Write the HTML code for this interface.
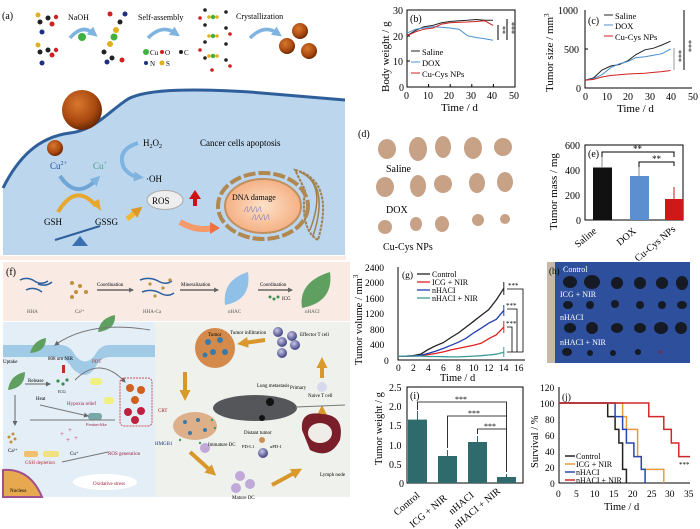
<!DOCTYPE html>
<html><head><meta charset="utf-8"><style>
html,body{margin:0;padding:0;background:#fff;}
svg{display:block;font-family:"Liberation Serif",serif;}
</style></head><body>
<svg width="700" height="529" viewBox="0 0 700 529" xmlns="http://www.w3.org/2000/svg">
<defs>
<radialGradient id="np" cx="40%" cy="35%" r="65%"><stop offset="0" stop-color="#d9782e"/><stop offset="0.7" stop-color="#a8470f"/><stop offset="1" stop-color="#6b2a05"/></radialGradient>
<radialGradient id="nuc" cx="50%" cy="50%" r="60%"><stop offset="0" stop-color="#fde1c8"/><stop offset="1" stop-color="#f3a777"/></radialGradient>
<radialGradient id="ball" cx="40%" cy="35%" r="60%"><stop offset="0" stop-color="#c8c8e6"/><stop offset="1" stop-color="#4a4a8a"/></radialGradient>
<marker id="ab" markerUnits="userSpaceOnUse" markerWidth="10" markerHeight="10" refX="4" refY="5" orient="auto"><path d="M0,0L10,5L0,10z" fill="#7fb3e0"/></marker>
<marker id="ag" markerUnits="userSpaceOnUse" markerWidth="5" markerHeight="5" refX="4" refY="2.5" orient="auto"><path d="M0,0L5,2.5L0,5z" fill="#666"/></marker>
<marker id="ao" markerUnits="userSpaceOnUse" markerWidth="11" markerHeight="11" refX="4" refY="5.5" orient="auto"><path d="M0,0L11,5.5L0,11z" fill="#d99a2b"/></marker>
</defs>

<!-- ===== Panel (a) ===== -->
<text x="2" y="19" font-size="10">(a)</text>
<g>
<circle cx="38" cy="15" r="2.5" fill="#e0b020"/><circle cx="40" cy="22" r="2.5" fill="#222"/><circle cx="48" cy="18" r="2.5" fill="#222"/><circle cx="52" cy="24" r="2.5" fill="#d02020"/><circle cx="42" cy="32" r="2.5" fill="#203080"/><circle cx="56" cy="17" r="2.2" fill="#d02020"/>
<circle cx="38" cy="45" r="2.5" fill="#e0b020"/><circle cx="40" cy="52" r="2.5" fill="#222"/><circle cx="48" cy="50" r="2.5" fill="#222"/><circle cx="52" cy="55" r="2.5" fill="#d02020"/><circle cx="42" cy="63" r="2.5" fill="#203080"/><circle cx="56" cy="50" r="2.2" fill="#d02020"/>
<circle cx="110" cy="14" r="2.5" fill="#d02020"/><circle cx="125" cy="14" r="2.5" fill="#203080"/><circle cx="120" cy="22" r="2.5" fill="#222"/><circle cx="116" cy="30" r="3" fill="#e0b020"/><circle cx="114" cy="37" r="3.5" fill="#40b040"/><circle cx="110" cy="44" r="3" fill="#e0b020"/><circle cx="104" cy="52" r="2.5" fill="#222"/><circle cx="112" cy="58" r="2.5" fill="#222"/><circle cx="122" cy="60" r="2.5" fill="#d02020"/><circle cx="107" cy="62" r="2.5" fill="#203080"/>
<g fill="#222"><circle cx="205" cy="10" r="1.8"/><circle cx="205" cy="25" r="1.8"/><circle cx="205" cy="42" r="1.8"/><circle cx="205" cy="58" r="1.8"/><circle cx="226" cy="12" r="1.8"/><circle cx="226" cy="28" r="1.8"/><circle cx="226" cy="44" r="1.8"/><circle cx="226" cy="60" r="1.8"/></g>
<g fill="#d02020"><circle cx="200" cy="18" r="1.8"/><circle cx="230" cy="34" r="1.8"/><circle cx="200" cy="50" r="1.8"/><circle cx="230" cy="66" r="1.8"/><circle cx="212" cy="70" r="1.8"/></g>
<g fill="#40b040"><circle cx="213" cy="17" r="2.2"/><circle cx="213" cy="36" r="2.2"/><circle cx="213" cy="56" r="2.2"/></g>
<g fill="#e0b020"><circle cx="209" cy="17" r="1.8"/><circle cx="217" cy="17" r="1.8"/><circle cx="209" cy="36" r="1.8"/><circle cx="217" cy="36" r="1.8"/><circle cx="209" cy="56" r="1.8"/><circle cx="217" cy="56" r="1.8"/></g>
</g>
<text x="68" y="20" font-size="8">NaOH</text>
<path d="M70,38 Q82,24 93,33" fill="none" stroke="#7fb3e0" stroke-width="3.5" marker-end="url(#ab)"/>
<circle cx="82" cy="37" r="4" fill="#40b040"/>
<text x="138" y="20" font-size="8">Self-assembly</text>
<path d="M148,38 Q162,24 175,33" fill="none" stroke="#7fb3e0" stroke-width="3.5" marker-end="url(#ab)"/>
<circle cx="146" cy="52" r="3" fill="#40b040"/><text x="150" y="55" font-size="7">Cu</text><circle cx="162" cy="52" r="2" fill="#d02020"/><text x="165" y="55" font-size="7">O</text><circle cx="181" cy="52" r="2" fill="#222"/><text x="184" y="55" font-size="7">C</text>
<circle cx="146" cy="63" r="2" fill="#203080"/><text x="150" y="66" font-size="7">N</text><circle cx="162" cy="63" r="2.5" fill="#e0b020"/><text x="166" y="66" font-size="7">S</text>
<text x="236" y="19" font-size="8">Crystallization</text>
<path d="M250,38 Q264,24 277,33" fill="none" stroke="#7fb3e0" stroke-width="3.5" marker-end="url(#ab)"/>
<circle cx="300" cy="31" r="8" fill="url(#np)"/><circle cx="287" cy="46" r="8" fill="url(#np)"/><circle cx="309" cy="51" r="8" fill="url(#np)"/>
<path d="M3,188 C18,158 38,137 70,133 C95,130 108,112 128,99 C148,88 200,89 250,92 L345,100 L345,255 L3,255 Z" fill="#bcd6ee"/>
<path d="M3,188 C18,158 38,137 70,133 C95,130 108,112 128,99 C148,88 200,89 250,92 L345,100" fill="none" stroke="#2f5f9a" stroke-width="3"/>
<rect x="0" y="256" width="346" height="4" fill="#fbece6"/>
<circle cx="82" cy="110" r="20" fill="url(#np)"/>
<circle cx="55" cy="148" r="8" fill="url(#np)"/>
<text x="143" y="146" font-size="9">H<tspan font-size="6" dy="2">2</tspan><tspan dy="-2">O</tspan><tspan font-size="6" dy="2">2</tspan></text>
<text x="200" y="146" font-size="9">Cancer cells apoptosis</text>
<path d="M138,143 Q116,150 124,168 Q130,176 138,177" fill="none" stroke="#7fb3e0" stroke-width="4" marker-end="url(#ab)"/>
<text x="146" y="182" font-size="9">·OH</text>
<text x="50" y="169" font-size="9" fill="#1d4b9a">Cu<tspan font-size="6" dy="-4">2+</tspan></text>
<text x="93" y="169" font-size="9" fill="#4aa080">Cu<tspan font-size="6" dy="-4">+</tspan></text>
<path d="M60,176 Q76,200 96,180" fill="none" stroke="#6fa6d6" stroke-width="4" marker-end="url(#ab)"/>
<path d="M58,212 Q76,182 96,206" fill="none" stroke="#e8a830" stroke-width="4"/>
<path d="M91,203 L101,211 L99,199 Z" fill="#e8a830"/>
<text x="44" y="225" font-size="9">GSH</text>
<text x="95" y="225" font-size="9">GSSG</text>
<path d="M127,219 L137,211" stroke="#f0b830" stroke-width="5" marker-end="url(#ao)"/>
<line x1="55" y1="240" x2="100" y2="226" stroke="#2f5f9a" stroke-width="2"/>
<path d="M72,246 L80,236 L88,246 Z" fill="#3a6fb0"/>
<ellipse cx="165" cy="200" rx="18" ry="9.5" fill="#eeeeee" stroke="#aaa"/>
<text x="152" y="204" font-size="9">ROS</text>
<rect x="193" y="198" width="4" height="8" fill="#d01010"/><path d="M189,199 L195,190 L201,199 Z" fill="#d01010"/>
<path d="M180,222 Q198,232 212,228" fill="none" stroke="#f59a6a" stroke-width="6"/>
<path d="M210,222 L220,228 L210,234 Z" fill="#f07040"/>
<path d="M295,170 Q335,180 318,240 Q300,230 305,190 Z" fill="none" stroke="#a08050" stroke-width="2" stroke-dasharray="3,1"/>
<path d="M300,172 Q330,185 313,236" fill="none" stroke="#a08050" stroke-width="1.5"/>
<path d="M307,176 Q325,190 310,230" fill="none" stroke="#a08050" stroke-width="1.5"/>
<ellipse cx="263" cy="206" rx="45" ry="33" fill="none" stroke="#b08850" stroke-width="4" stroke-dasharray="12,3"/>
<ellipse cx="263" cy="206" rx="38" ry="27" fill="url(#nuc)" stroke="#c09060" stroke-width="2"/>
<text x="232" y="200" font-size="8">DNA damage</text>
<text x="244" y="212" font-size="8" fill="#5060c0" font-style="italic">/\/\/\/\</text>
<text x="252" y="220" font-size="8" fill="#5060c0" font-style="italic">/\/\/\/\</text>

<!-- ===== Panel (f) ===== -->
<rect x="3" y="262" width="347" height="59" fill="#f9ebe4"/>
<text x="6" y="275" font-size="10">(f)</text>
<g stroke="#2a5fa0" stroke-width="1.5" fill="none"><path d="M20,280 q8,-4 16,2 q6,3 12,-1"/><path d="M26,290 q8,-4 16,2"/><path d="M38,284 q8,3 14,-2"/></g>
<g fill="#c09040"><circle cx="72" cy="283" r="2"/><circle cx="80" cy="286" r="2"/><circle cx="76" cy="292" r="2"/><circle cx="86" cy="292" r="2"/><circle cx="72" cy="297" r="2"/></g>
<line x1="97" y1="290" x2="133" y2="290" stroke="#666" stroke-width="1.5" marker-end="url(#ag)"/>
<text x="97" y="286" font-size="5">Coordination</text>
<g stroke="#2a5fa0" stroke-width="1.5" fill="none"><path d="M140,280 q10,-4 20,2 q6,3 12,-1"/><path d="M142,292 q10,-4 20,2 q6,3 12,-1"/></g>
<g fill="#c09040"><circle cx="150" cy="284" r="1.6"/><circle cx="163" cy="288" r="1.6"/><circle cx="170" cy="280" r="1.6"/><circle cx="155" cy="296" r="1.6"/></g>
<line x1="180" y1="290" x2="218" y2="290" stroke="#666" stroke-width="1.5" marker-end="url(#ag)"/>
<text x="181" y="286" font-size="5">Mineralization</text>
<path d="M225,305 Q222,280 248,272 Q252,300 225,305Z" fill="#8fc0e8"/>
<line x1="258" y1="290" x2="292" y2="290" stroke="#666" stroke-width="1.5" marker-end="url(#ag)"/>
<text x="260" y="286" font-size="5">Coordination</text>
<g fill="#3a9050"><circle cx="270" cy="297" r="1.5"/><circle cx="274" cy="299" r="1.5"/><circle cx="278" cy="297" r="1.5"/></g>
<text x="282" y="300" font-size="5">ICG</text>
<path d="M302,308 Q298,282 330,272 Q334,302 302,308Z" fill="#5fa060"/>
<text x="27" y="313" font-size="5" fill="#555">HHA</text><text x="75" y="313" font-size="5" fill="#555">Ca²⁺</text><text x="143" y="313" font-size="5" fill="#555">HHA-Ca</text><text x="228" y="313" font-size="5" fill="#555">nHAC</text><text x="305" y="313" font-size="5" fill="#555">nHACI</text>
<rect x="3" y="322" width="152" height="175" fill="#e4eef7"/>
<rect x="155" y="322" width="195" height="175" fill="#eef1ec"/>
<path d="M3,345 L60,345 Q70,345 75,355 Q85,368 95,355 Q100,345 110,345 L155,345 L155,357 L110,357 Q100,357 95,368 Q85,382 72,368 Q66,357 56,357 L3,357 Z" fill="#8fc0e0" opacity="0.8"/>
<path d="M98,332 Q100,318 115,315 Q116,330 98,332Z" fill="#5fa060"/>
<path d="M30,353 Q34,340 46,338 Q46,352 30,353Z" fill="#5fa060"/>
<path d="M8,390 Q10,375 25,372 Q25,388 8,390Z" fill="#5fa060"/>
<path d="M150,330 Q90,320 55,345" fill="none" stroke="#777" stroke-width="1" marker-end="url(#ag)"/>
<text x="3" y="363" font-size="5">Uptake</text>
<text x="48" y="360" font-size="5">808 nm NIR</text>
<rect x="62" y="365" width="3" height="8" fill="#c03020"/>
<g fill="#3a9050"><circle cx="58" cy="381" r="1.6"/><circle cx="63" cy="384" r="1.6"/><circle cx="67" cy="380" r="1.6"/></g>
<text x="58" y="393" font-size="4.5">ICG</text>
<text x="28" y="382" font-size="5">Release</text>
<line x1="25" y1="384" x2="50" y2="384" stroke="#666" stroke-width="1" marker-end="url(#ag)"/>
<line x1="15" y1="395" x2="15" y2="425" stroke="#666" stroke-width="1" marker-end="url(#ag)"/>
<text x="92" y="363" font-size="5" fill="#b03030">PDT</text>
<path d="M75,380 Q100,355 125,382" fill="none" stroke="#777" stroke-width="1" marker-end="url(#ag)"/>
<rect x="90" y="378" width="12" height="7" rx="3" fill="#f0f080"/>
<rect x="120" y="378" width="32" height="48" rx="4" fill="none" stroke="#d05050" stroke-dasharray="2,1"/>
<g fill="#d06020"><circle cx="130" cy="388" r="4"/><circle cx="141" cy="390" r="4"/><circle cx="135" cy="400" r="4"/></g>
<g fill="#c02040"><circle cx="128" cy="412" r="4"/><circle cx="141" cy="411" r="4"/><circle cx="135" cy="420" r="4"/></g>
<text x="36" y="400" font-size="5">Heat</text>
<text x="67" y="405" font-size="5" fill="#a02040">Hypoxia relief</text>
<rect x="104" y="397" width="10" height="7" rx="3" fill="#f0f080"/>
<rect x="88" y="413" width="14" height="7" rx="3" fill="#7aa8a8"/>
<text x="86" y="426" font-size="4.5" fill="#a02040">Fenton-like</text>
<line x1="40" y1="405" x2="88" y2="416" stroke="#777" stroke-width="1" marker-end="url(#ag)"/>
<line x1="30" y1="420" x2="115" y2="420" stroke="#777" stroke-width="1"/>
<g fill="#c09040"><circle cx="9" cy="437" r="1.5"/><circle cx="13" cy="434" r="1.5"/><circle cx="15" cy="439" r="1.5"/><circle cx="11" cy="442" r="1.5"/></g>
<text x="8" y="452" font-size="5">Ca²⁺</text>
<g fill="#d03070" font-size="7"><text x="60" y="436">+</text><text x="68" y="432">+</text><text x="66" y="442">+</text><text x="74" y="440">+</text></g>
<text x="70" y="455" font-size="5">Cu⁺</text>
<rect x="24" y="451" width="14" height="6" rx="2" fill="#f0c070"/><rect x="43" y="451" width="16" height="6" rx="2" fill="#f0e080"/>
<text x="25" y="464" font-size="5" fill="#b03030">GSH depletion</text>
<text x="108" y="455" font-size="5" fill="#a02040">ROS generation</text>
<line x1="62" y1="462" x2="108" y2="452" stroke="#777" stroke-width="1"/>
<ellipse cx="105" cy="482" rx="32" ry="8" fill="#fff"/>
<text x="93" y="485" font-size="5" fill="#a02040">Oxidative stress</text>
<path d="M3,470 Q30,468 42,497 L3,497Z" fill="#e7a850" stroke="#a05090" stroke-width="2"/>
<text x="10" y="492" font-size="5">Nucleus</text>
<circle cx="215" cy="348" r="20" fill="#d48a4a"/>
<g fill="#3a7aa8"><circle cx="208" cy="342" r="3"/><circle cx="220" cy="340" r="3"/><circle cx="213" cy="352" r="3"/><circle cx="225" cy="352" r="3"/><circle cx="205" cy="355" r="2.5"/></g>
<text x="208" y="336" font-size="5">Tumor</text>
<text x="230" y="334" font-size="5">Tumor infiltration</text>
<path d="M265,340 L244,343" stroke="#d9962b" stroke-width="4" marker-end="url(#ao)"/>
<circle cx="278" cy="332" r="5" fill="url(#ball)"/><circle cx="292" cy="336" r="5" fill="url(#ball)"/><circle cx="282" cy="342" r="5" fill="url(#ball)"/><circle cx="295" cy="345" r="5" fill="url(#ball)"/><circle cx="282" cy="353" r="5" fill="url(#ball)"/>
<text x="300" y="336" font-size="5">Effector T cell</text>
<path d="M322,378 L322,364" stroke="#d9962b" stroke-width="4" marker-end="url(#ao)"/>
<circle cx="322" cy="387" r="5" fill="#d8d8ee"/><text x="308" y="397" font-size="5">Naive T cell</text>
<path d="M322,425 L322,412" stroke="#d9962b" stroke-width="4" marker-end="url(#ao)"/>
<path d="M302,430 Q300,410 322,414 Q345,415 340,440 Q330,460 310,450 Z" fill="#7a1f2a"/>
<ellipse cx="320" cy="433" rx="12" ry="10" fill="#f0ece8"/>
<text x="320" y="476" font-size="5">Lymph node</text>
<path d="M185,372 L185,394" stroke="#d9962b" stroke-width="4" marker-end="url(#ao)"/>
<ellipse cx="195" cy="426" rx="22" ry="14" fill="#d8a070" opacity="0.8"/>
<g fill="#3a7aa8"><circle cx="185" cy="422" r="2"/><circle cx="198" cy="420" r="2"/><circle cx="205" cy="430" r="2"/><circle cx="190" cy="433" r="2"/></g>
<g fill="#40a060"><circle cx="212" cy="420" r="1.2"/><circle cx="215" cy="428" r="1.2"/><circle cx="180" cy="440" r="1.2"/><circle cx="200" cy="443" r="1.2"/></g>
<text x="158" y="412" font-size="5" fill="#a02020">CRT</text>
<text x="155" y="445" font-size="5" fill="#203080">HMGB1</text>
<ellipse cx="255" cy="408" rx="42" ry="13" fill="#55565a"/>
<circle cx="270" cy="402" r="4" fill="#111"/><circle cx="262" cy="418" r="3" fill="#111"/>
<line x1="296" y1="407" x2="345" y2="405" stroke="#777" stroke-width="1"/>
<text x="257" y="387" font-size="5">Lung metastasis</text><text x="290" y="389" font-size="5">Primary</text>
<text x="244" y="434" font-size="5">Distant tumor</text>
<circle cx="263" cy="453" r="5" fill="url(#ball)"/><circle cx="262" cy="440" r="3" fill="#d09050"/>
<text x="242" y="448" font-size="4.5">PD-L1</text><text x="270" y="448" font-size="4.5">αPD-1</text>
<circle cx="205" cy="448" r="5" fill="#c0a8d8"/><text x="208" y="446" font-size="5">Immature DC</text>
<path d="M190,452 L211,471" stroke="#d9962b" stroke-width="4" marker-end="url(#ao)"/>
<circle cx="240" cy="476" r="5" fill="#c0a8d8"/><circle cx="250" cy="484" r="5" fill="#c0a8d8"/><circle cx="236" cy="488" r="5" fill="#c0a8d8"/>
<text x="232" y="499" font-size="5">Mature DC</text>
<path d="M272,485 L296,472" stroke="#d9962b" stroke-width="4" marker-end="url(#ao)"/>

<!-- ===== Panel (b) ===== -->
<g font-size="10">
<path d="M407,10 L407,87 L515,87 L515,10 Z" fill="none" stroke="#000" stroke-width="1"/>
<g stroke="#000"><line x1="407" y1="36" x2="410" y2="36"/><line x1="407" y1="61" x2="410" y2="61"/><line x1="428.6" y1="87" x2="428.6" y2="84"/><line x1="450.2" y1="87" x2="450.2" y2="84"/><line x1="471.8" y1="87" x2="471.8" y2="84"/><line x1="493.4" y1="87" x2="493.4" y2="84"/></g>
<text x="393" y="14">30</text><text x="393" y="40">20</text><text x="393" y="65">10</text><text x="399" y="91">0</text>
<text x="404" y="99">0</text><text x="423" y="99">10</text><text x="444" y="99">20</text><text x="466" y="99">30</text><text x="487" y="99">40</text><text x="509" y="99">50</text>
<text x="441" y="111" font-size="11">Time / d</text>
<text transform="translate(389,92) rotate(-90)" font-size="11">Body weight / g</text>
<text x="410" y="22">(b)</text>
<polyline points="407,35.7 415.6,30.5 424,26.7 433,25.4 441.6,22.8 450,21.5 459,20.8 467.5,20.3 476,19.5 484.8,20.3 493,20.3" fill="none" stroke="#222" stroke-width="1"/>
<polyline points="407,33.1 415.6,29.2 424,28 433,26.7 441.6,27.2 450,28 459,29.2 467.5,35.7 476,37.5 484.8,38.7 493,40.3" fill="none" stroke="#4a90d0" stroke-width="1"/>
<polyline points="407,35.7 415.6,31.8 424,29.2 433,28 441.6,24.1 450,22.8 459,22.3 467.5,22 476,21.5 484.8,20.8 493,25.4" fill="none" stroke="#d02020" stroke-width="1"/>
<line x1="411" y1="51" x2="420" y2="51" stroke="#222"/><text x="422" y="55" font-size="8.5">Saline</text>
<line x1="411" y1="62" x2="420" y2="62" stroke="#4a90d0"/><text x="422" y="66" font-size="8.5">DOX</text>
<line x1="411" y1="73" x2="420" y2="73" stroke="#d02020"/><text x="422" y="77" font-size="8.5">Cu-Cys NPs</text>
<line x1="498" y1="25" x2="498" y2="40" stroke="#000"/><line x1="507" y1="19" x2="507" y2="40" stroke="#000"/>
<text transform="translate(500,26) rotate(90)" font-size="8">**</text><text transform="translate(509,22) rotate(90)" font-size="8">***</text>
</g>

<!-- ===== Panel (c) ===== -->
<g font-size="10">
<path d="M585,10 L585,88 L692,88" fill="none" stroke="#000"/>
<line x1="585" y1="49" x2="588" y2="49" stroke="#000"/>
<text x="558" y="14">1000</text><text x="564" y="53">500</text><text x="576" y="92">0</text>
<text x="583" y="100">0</text><text x="602" y="100">10</text><text x="623" y="100">20</text><text x="645" y="100">30</text><text x="666" y="100">40</text><text x="688" y="100">50</text>
<text x="617" y="112" font-size="11">Time / d</text>
<text transform="translate(553,92) rotate(-90)" font-size="11">Tumor size / mm<tspan font-size="7" dy="-4">3</tspan></text>
<text x="588" y="24">(c)</text>
<polyline points="585,80.2 593.6,77.9 602,70 610.7,66 619,64.6 628,60.7 636,54.5 645,49.8 653.5,48.2 662,45 670.6,41.2" fill="none" stroke="#222"/>
<polyline points="585,80.2 593.6,78.6 602,74.7 610.7,67.7 619,63.8 628,61.5 636,57.6 645,56.8 653.5,55.2 662,53.7 670.6,49" fill="none" stroke="#4a90d0"/>
<polyline points="585,80.2 593.6,79.4 602,77 610.7,75.5 619,74.7 628,74 636,73.6 645,73.2 653.5,72.4 662,71.6 670.6,70.5" fill="none" stroke="#d02020"/>
<line x1="604" y1="15" x2="613" y2="15" stroke="#222"/><text x="615" y="19" font-size="8.5">Saline</text>
<line x1="604" y1="25" x2="613" y2="25" stroke="#4a90d0"/><text x="615" y="29" font-size="8.5">DOX</text>
<line x1="604" y1="36" x2="613" y2="36" stroke="#d02020"/><text x="615" y="40" font-size="8.5">Cu-Cys NPs</text>
<line x1="674" y1="48" x2="674" y2="70" stroke="#999"/><line x1="684" y1="10" x2="684" y2="70" stroke="#000"/>
<text transform="translate(676,50) rotate(90)" font-size="8">***</text><text transform="translate(686,40) rotate(90)" font-size="8">***</text>
</g>

<!-- ===== Panel (d) ===== -->
<text x="358" y="137" font-size="10">(d)</text>
<g fill="#c7a286">
<ellipse cx="387" cy="149" rx="9" ry="10"/><ellipse cx="418" cy="149" rx="9" ry="12"/><ellipse cx="443" cy="147" rx="8" ry="11"/><ellipse cx="473" cy="148" rx="9" ry="11"/><ellipse cx="503" cy="147" rx="9" ry="9"/>
<ellipse cx="385" cy="187" rx="9" ry="10"/><ellipse cx="418" cy="186" rx="8" ry="11"/><ellipse cx="443" cy="184" rx="9" ry="9"/><ellipse cx="477" cy="183" rx="8" ry="10"/><ellipse cx="505" cy="182" rx="8" ry="10"/>
<ellipse cx="385" cy="227" rx="7" ry="7"/><ellipse cx="416" cy="224" rx="6" ry="7"/><ellipse cx="442" cy="224" rx="7" ry="8"/><ellipse cx="478" cy="220" rx="6" ry="6"/><ellipse cx="505" cy="219" rx="5" ry="5"/>
</g>
<text x="386" y="172" font-size="10">Saline</text>
<text x="386" y="213" font-size="10">DOX</text>
<text x="383" y="250" font-size="10">Cu-Cys NPs</text>

<!-- ===== Panel (e) ===== -->
<g font-size="10">
<rect x="585" y="145" width="98" height="75" fill="none" stroke="#000"/>
<text x="565" y="149">600</text><text x="565" y="174">400</text><text x="565" y="199">200</text><text x="576" y="224">0</text>
<text transform="translate(557,230) rotate(-90)" font-size="11">Tumor mass / mg</text>
<text x="588" y="157">(e)</text>
<rect x="593" y="167.5" width="19" height="52.5" fill="#111"/>
<rect x="630" y="176" width="19" height="44" fill="#5b8fd0"/>
<rect x="665" y="199" width="18" height="21" fill="#d01818"/>
<line x1="602" y1="157" x2="602" y2="167" stroke="#888"/><line x1="639" y1="167" x2="639" y2="176" stroke="#888"/><line x1="674" y1="187" x2="674" y2="199" stroke="#d01818"/>
<path d="M602,157 L602,152 L674,152 L674,157" fill="none" stroke="#000"/>
<path d="M639,167 L639,162 L674,162 L674,166" fill="none" stroke="#000"/>
<text x="633" y="152" font-size="9">**</text><text x="652" y="162" font-size="9">**</text>
<text transform="translate(578,248) rotate(-40)" font-size="10">Saline</text>
<text transform="translate(620,246) rotate(-40)" font-size="10">DOX</text>
<text transform="translate(638,262) rotate(-40)" font-size="10">Cu-Cys NPs</text>
</g>

<!-- ===== Panel (g) ===== -->
<g font-size="9.5">
<path d="M398,267 L398,360 L525,360" fill="none" stroke="#000"/>
<text x="365" y="271">2400</text><text x="365" y="286">2000</text><text x="365" y="302">1600</text><text x="365" y="317">1200</text><text x="370" y="333">800</text><text x="370" y="348">400</text><text x="384" y="364">0</text>
<text x="396" y="371">0</text><text x="411" y="371">2</text><text x="426" y="371">4</text><text x="441" y="371">6</text><text x="456" y="371">8</text><text x="469" y="371">10</text><text x="484" y="371">12</text><text x="499" y="371">14</text><text x="514" y="371">16</text>
<text x="440" y="381" font-size="10.5">Time / d</text>
<text transform="translate(362,365) rotate(-90)" font-size="10.5">Tumor volume / mm<tspan font-size="7" dy="-4">3</tspan></text>
<text x="402" y="278">(g)</text>
<polyline points="398,356.1 405.6,356.1 413.1,355.7 420.7,354.2 428.2,349.5 435.8,345.7 443.4,342.6 450.9,337.5 458.5,332.9 466,327.1 473.6,321.3 481.2,315.4 488.7,309.6 496.3,299.9 503.8,288.3" fill="none" stroke="#222" stroke-width="1.3"/>
<polyline points="398,356.1 405.6,356.1 413.1,356.1 420.7,355.7 428.2,354.6 435.8,353.4 443.4,351.9 450.9,349.9 458.5,348.4 466,346.8 473.6,345.3 481.2,343.3 488.7,338.7 496.3,334.8 503.8,327.1" fill="none" stroke="#e02020" stroke-width="1.3"/>
<polyline points="398,356.1 405.6,356.1 413.1,355.9 420.7,355.4 428.2,353.4 435.8,351.1 443.4,348.4 450.9,345.3 458.5,342.2 466,338.3 473.6,332.9 481.2,328.2 488.7,323.2 496.3,319.3 503.8,310.4" fill="none" stroke="#2040b0" stroke-width="1.3"/>
<polyline points="398,356.1 405.6,356.1 413.1,356.1 420.7,356.1 428.2,356.5 435.8,356.5 443.4,356.7 450.9,356.9 458.5,356.9 466,356.5 473.6,356.1 481.2,355.7 488.7,355 496.3,354.2 503.8,352.3" fill="none" stroke="#3a9a9a" stroke-width="1.3"/>
<g stroke-width="1"><line x1="503.8" y1="282" x2="503.8" y2="295" stroke="#222"/><line x1="503.8" y1="305" x2="503.8" y2="316" stroke="#2040b0"/><line x1="503.8" y1="321" x2="503.8" y2="333" stroke="#e02020"/><line x1="503.8" y1="347" x2="503.8" y2="357" stroke="#3a9a9a"/></g>
<path d="M507,289 L523,289 L523,352 L507,352 M507,309 L517,309 L517,352 M507,327 L512,327 L512,352" fill="none" stroke="#000" stroke-width="0.8"/>
<text x="508" y="288" font-size="7">***</text><text x="506" y="308" font-size="7">***</text><text x="506" y="326" font-size="7">***</text>
<line x1="417" y1="274" x2="430" y2="274" stroke="#222" stroke-width="1.3"/><text x="432" y="277" font-size="8">Control</text>
<line x1="417" y1="282" x2="430" y2="282" stroke="#e02020" stroke-width="1.3"/><text x="432" y="285" font-size="8">ICG + NIR</text>
<line x1="417" y1="290" x2="430" y2="290" stroke="#2040b0" stroke-width="1.3"/><text x="432" y="293" font-size="8">nHACI</text>
<line x1="417" y1="298" x2="430" y2="298" stroke="#3a9a9a" stroke-width="1.3"/><text x="432" y="301" font-size="8">nHACI + NIR</text>
</g>

<!-- ===== Panel (h) ===== -->
<rect x="547" y="262" width="143" height="101" fill="#2d4f9c"/>
<rect x="547" y="262" width="8" height="101" fill="#c8b8a8"/>
<g fill="#151a25">
<ellipse cx="570" cy="282" rx="7" ry="6"/><ellipse cx="592" cy="282" rx="8" ry="7"/><ellipse cx="617" cy="283" rx="6" ry="6"/><ellipse cx="640" cy="283" rx="6" ry="6"/><ellipse cx="662" cy="283" rx="6" ry="6"/><ellipse cx="682" cy="283" rx="6" ry="7"/>
<ellipse cx="568" cy="305" rx="5" ry="4"/><ellipse cx="590" cy="305" rx="4" ry="4"/><ellipse cx="615" cy="304" rx="4" ry="4"/><ellipse cx="640" cy="305" rx="4" ry="4"/><ellipse cx="662" cy="305" rx="4" ry="4"/><ellipse cx="682" cy="305" rx="5" ry="4"/>
<ellipse cx="570" cy="328" rx="6" ry="5"/><ellipse cx="592" cy="328" rx="6" ry="6"/><ellipse cx="617" cy="328" rx="6" ry="5"/><ellipse cx="640" cy="328" rx="6" ry="5"/><ellipse cx="661" cy="328" rx="7" ry="6"/><ellipse cx="681" cy="328" rx="6" ry="6"/>
<ellipse cx="567" cy="352" rx="5" ry="4"/><ellipse cx="590" cy="353" rx="3" ry="3"/><ellipse cx="613" cy="353" rx="3" ry="3"/><ellipse cx="638" cy="352" rx="3" ry="3"/></g>
<circle cx="660" cy="352" r="2" fill="#5a3a5a"/>
<text x="549" y="274" font-size="9" fill="#000">(h)</text>
<text x="563" y="272" font-size="8" fill="#fff">Control</text>
<text x="560" y="297" font-size="8" fill="#fff">ICG + NIR</text>
<text x="560" y="320" font-size="8" fill="#fff">nHACI</text>
<text x="560" y="345" font-size="8" fill="#fff">nHACI + NIR</text>

<!-- ===== Panel (i) ===== -->
<g font-size="10">
<rect x="407" y="387" width="116" height="96" fill="none" stroke="#000"/>
<text x="389" y="391">2.5</text><text x="389" y="410">2.0</text><text x="389" y="429">1.5</text><text x="389" y="449">1.0</text><text x="389" y="468">0.5</text><text x="399" y="487">0</text>
<text transform="translate(382,465) rotate(-90)" font-size="10.5">Tumor weight / g</text>
<text x="410" y="399">(i)</text>
<rect x="408" y="419.6" width="19" height="63.4" fill="#2f6b6c"/>
<rect x="438" y="456" width="19" height="27" fill="#2f6b6c"/>
<rect x="468" y="442" width="19" height="41" fill="#2f6b6c"/>
<rect x="497" y="477" width="19" height="6" fill="#2f6b6c"/>
<g stroke="#2f6b6c"><line x1="417.5" y1="411" x2="417.5" y2="420"/><line x1="447.5" y1="450" x2="447.5" y2="456"/><line x1="477.5" y1="436" x2="477.5" y2="442"/><line x1="506.5" y1="474" x2="506.5" y2="477"/></g>
<path d="M417.5,410 L417.5,402 L506.5,402 L506.5,472 M447.5,448 L447.5,416 L506.5,416 M477.5,434 L477.5,429 L506.5,429" fill="none" stroke="#000" stroke-width="0.8"/>
<text x="455" y="402" font-size="8">***</text><text x="468" y="416" font-size="8">***</text><text x="484" y="429" font-size="8">***</text>
<text transform="translate(397,516) rotate(-40)" font-size="10">Control</text>
<text transform="translate(413,528) rotate(-40)" font-size="10">ICG + NIR</text>
<text transform="translate(452,515) rotate(-40)" font-size="10">nHACI</text>
<text transform="translate(457,529) rotate(-40)" font-size="10">nHACI + NIR</text>
</g>

<!-- ===== Panel (j) ===== -->
<g font-size="9.5">
<path d="M559,387 L559,483 L690,483" fill="none" stroke="#000"/>
<text x="540" y="391">120</text><text x="540" y="407">100</text><text x="545" y="423">80</text><text x="545" y="439">60</text><text x="545" y="455">40</text><text x="545" y="471">20</text><text x="550" y="487">0</text>
<text x="556" y="497">0</text><text x="574" y="497">5</text><text x="590" y="497">10</text><text x="609" y="497">15</text><text x="628" y="497">20</text><text x="647" y="497">25</text><text x="665" y="497">30</text><text x="684" y="497">35</text>
<text x="604" y="510" font-size="10.5">Time / d</text>
<text transform="translate(538,468) rotate(-90)" font-size="10.5">Survival / %</text>
<text x="562" y="400">(j)</text>
<polyline points="559,403 607.7,403 607.7,416.6 615.1,416.6 615.1,429.4 618.9,429.4 618.9,443 622.6,443 622.6,469.4 626.4,469.4 626.4,483" fill="none" stroke="#222" stroke-width="1.5"/>
<polyline points="559,403 622.6,403 622.6,416.6 626.4,416.6 626.4,429.4 637.6,429.4 637.6,456.6 641.3,456.6 641.3,469.4 663.8,469.4 663.8,483" fill="none" stroke="#e89a40" stroke-width="1.5"/>
<polyline points="559,403 615.1,403 615.1,416.6 622.6,416.6 622.6,429.4 626.4,429.4 626.4,443 633.9,443 633.9,456.6 641.3,456.6 641.3,469.4 645.1,469.4 645.1,483" fill="none" stroke="#2848b0" stroke-width="1.5"/>
<polyline points="559,403 648.8,403 648.8,416.6 663.8,416.6 663.8,429.4 671.3,429.4 671.3,443 678.8,443 678.8,456.6 690,456.6" fill="none" stroke="#d02828" stroke-width="1.5"/>
<text x="679" y="467" font-size="7">***</text>
<line x1="565" y1="456" x2="575" y2="456" stroke="#222" stroke-width="1.5"/><text x="576" y="459" font-size="8">Control</text>
<line x1="565" y1="464" x2="575" y2="464" stroke="#e89a40" stroke-width="1.5"/><text x="576" y="467" font-size="8">ICG + NIR</text>
<line x1="565" y1="472" x2="575" y2="472" stroke="#2848b0" stroke-width="1.5"/><text x="576" y="475" font-size="8">nHACI</text>
<line x1="565" y1="480" x2="575" y2="480" stroke="#d02828" stroke-width="1.5"/><text x="576" y="483" font-size="8">nHACI + NIR</text>
</g>
</svg>
</body></html>
